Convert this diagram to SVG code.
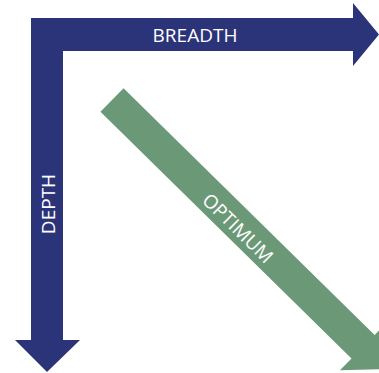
<svg xmlns="http://www.w3.org/2000/svg" width="379" height="373" viewBox="0 0 379 373">
<style>
.blue{fill:#2B3479}
.green{fill:#6B9977}
.lbl{fill:#FFFFFF;font-family:"Open Sans","DejaVu Sans",sans-serif;font-size:19px;text-anchor:middle}
</style>
<rect width="379" height="373" fill="#FFFFFF"/>
<g id="connectors">
<polygon id="axes" class="blue" points="31,18 353,18 353,3 379,34.5 353,66 353,51 63,51 63,340 80,340 47,372 15,340 31,340"/>
<polygon id="optimum-arrow" class="green" transform="translate(112,100) rotate(44.5)" points="0,-16.5 352,-16.5 352,-33 384,0 352,33 352,16.5 0,16.5"/>
</g>
<g id="breadth"><text class="lbl" x="195" y="42">BREADTH</text></g>
<g id="depth"><text class="lbl" transform="translate(54.5,204) rotate(-90)">DEPTH</text></g>
<g id="optimum"><text class="lbl" transform="translate(238,228) rotate(44.5)" y="7">OPTIMUM</text></g>
</svg>
